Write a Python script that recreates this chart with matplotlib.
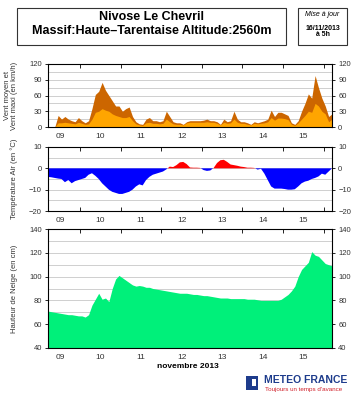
import numpy as np
import matplotlib
matplotlib.use("Agg")
import matplotlib.pyplot as plt
from matplotlib.patches import Rectangle

# ---- data (2-hourly, hours since 09/11 05h) ----
hours = list(range(0, 169, 2))
day_labels = ["09", "10", "11", "12", "13", "14", "15"]
day_label_hours = [7, 31, 55, 79, 103, 127, 151]
midnight_hours = [19, 43, 67, 91, 115, 139, 163]

wind_max = [0, 0, 0, 22, 15, 20, 15, 12, 10, 18, 12, 8, 12, 35, 62, 68, 85, 70, 60, 50,
            40, 40, 30, 35, 38, 20, 10, 6, 5, 15, 18, 12, 12, 10, 12, 30, 20, 10, 8, 8,
            5, 10, 12, 12, 12, 12, 13, 15, 12, 12, 10, 5, 15, 10, 12, 30, 15, 10, 10, 8,
            5, 10, 8, 10, 12, 15, 32, 20, 28, 28, 25, 22, 8, 5, 12, 30, 45, 63, 55, 98,
            75, 55, 40, 20, 25]
wind_mean = [0, 0, 0, 8, 8, 9, 8, 7, 6, 9, 7, 5, 6, 15, 28, 30, 35, 32, 30, 25,
             22, 20, 18, 18, 20, 12, 6, 4, 3, 8, 9, 7, 7, 6, 7, 15, 10, 6, 5, 5,
             4, 8, 9, 9, 9, 9, 9, 10, 9, 9, 7, 4, 9, 7, 8, 15, 9, 7, 7, 5,
             4, 7, 6, 7, 8, 10, 18, 13, 17, 17, 16, 14, 5, 3, 8, 15, 22, 30, 28, 45,
             40, 30, 25, 10, 15]
temperature = [-4, -4.2, -4.5, -4.8, -5, -6.5, -5.5, -7, -6, -5.5, -5, -4.5, -3, -2.3, -3.5, -5, -7, -8.5, -10, -11,
               -11.5, -12, -12, -11.5, -11, -10, -8.5, -7.5, -8, -5.5, -4, -3, -2.5, -2, -1.5, -0.5, 0.8, 0.6, 1.5, 2.8,
               3, 2, 0.4, 0.3, 0.3, 0.2, -0.8, -1.2, -1, 0.2, 2.5, 3.8, 4, 3, 1.8, 1.5, 1.2, 0.8, 0.6, 0.3,
               0.3, 0.2, -0.6, -0.2, -2.5, -5.5, -8.5, -9.5, -9.5, -9.5, -9.7, -10, -10, -9.8, -8.5, -7, -6.2, -5.8, -5, -4.5,
               -3.8, -2.5, -3, -1.5, 0]
snow = [71, 70.5, 70, 69.5, 69, 68.5, 68, 68, 67.5, 67, 67, 66, 68, 76, 81, 86, 81, 82, 79, 90,
        98, 101, 99, 97, 95, 93, 92, 92.5, 92, 91, 91, 90, 89.5, 89, 88.5, 88, 87.5, 87, 86.5, 86,
        86, 86, 85.5, 85, 85, 84.5, 84, 84, 83.5, 83, 82.5, 82, 82, 82, 81.5, 81.5, 81.5, 81.5, 81.5, 81,
        81, 81, 80.5, 80, 80, 80, 80, 80, 80, 81, 83, 85, 88, 92, 100, 106, 109, 112, 121, 118,
        117, 114, 111, 110, 109]

plt.rcParams['font.family'] = ['Liberation Sans', 'DejaVu Sans']

W, H = 356, 394
fig = plt.figure(figsize=(W / 100, H / 100), dpi=100)
fig.patch.set_facecolor('white')

def ax_rect(x0, y0, x1, y1):
    return [x0 / W, 1 - y1 / H, (x1 - x0) / W, (y1 - y0) / H]

t = np.array(hours, dtype=float)
grid_c = '#c8c8c8'
tick_c = '#333333'

def style(ax, ylim, majors, minors):
    ax.set_xlim(0, 168)
    ax.set_ylim(*ylim)
    ax.set_yticks(majors)
    ax.set_yticks(minors, minor=True)
    ax.grid(True, axis='y', which='both', color=grid_c, lw=0.6)
    ax.set_axisbelow(True)
    ax.tick_params(axis='y', which='major', labelsize=5.5, labelcolor=tick_c, length=2.5,
                   width=0.6, left=True, right=True, labelleft=True, labelright=True, direction='out', pad=2)
    ax.tick_params(axis='y', which='minor', length=0)
    ax.set_xticks(midnight_hours)
    ax.set_xticks(day_label_hours, minor=True)
    ax.set_xticklabels(day_labels, minor=True)
    ax.tick_params(axis='x', which='major', labelbottom=False, top=True, bottom=True,
                   direction='in', length=3, width=0.6)
    ax.tick_params(axis='x', which='minor', length=0, labelsize=6, labelcolor=tick_c, pad=4)
    for s in ax.spines.values():
        s.set_linewidth(0.8)

# Wind
ax1 = fig.add_axes(ax_rect(48, 64, 332, 127))
ax1.fill_between(t, wind_max, 0, color='#CC6600', lw=0)
ax1.fill_between(t, wind_mean, 0, color='#FFA500', lw=0)
style(ax1, (0, 120), [0, 30, 60, 90, 120], [15, 45, 75, 105])
ax1.set_ylabel("Vent moyen et\nVent maxi (en km/h)", fontsize=5.5, color=tick_c, labelpad=3, linespacing=1.1)

# Temperature
ax2 = fig.add_axes(ax_rect(48, 147, 332, 211))
tmp = np.array(temperature)
ax2.fill_between(t, tmp, 0, where=tmp <= 0, interpolate=True, color='#0000FF', lw=0)
ax2.fill_between(t, tmp, 0, where=tmp >= 0, interpolate=True, color='#FF0000', lw=0)
style(ax2, (-20, 10), [-20, -10, 0, 10], [-15, -5, 5])
ax2.set_ylabel("Température Air (en °C)", fontsize=5.5, color=tick_c, labelpad=3)

# Snow
ax3 = fig.add_axes(ax_rect(48, 229, 332, 348))
ax3.fill_between(t, snow, 40, color='#00F07A', lw=0)
style(ax3, (40, 140), [40, 60, 80, 100, 120, 140], [50, 70, 90, 110, 130])
ax3.set_ylabel("Hauteur de Neige (en cm)", fontsize=5.5, color=tick_c, labelpad=3)

for ax in (ax1, ax2, ax3):
    ax.yaxis.set_label_coords(-0.105, 0.5)

# Title boxes
fig.patches.append(Rectangle((17 / W, 1 - 45 / H), (286 - 17) / W, 37 / H, transform=fig.transFigure,
                             fill=False, lw=0.8, edgecolor='#333333'))
fig.text(151.5 / W, 1 - 17 / H, "Nivose Le Chevril", ha='center', va='center', fontsize=9, fontweight='bold')
fig.text(151.5 / W, 1 - 31 / H, "Massif:Haute\u2013Tarentaise Altitude:2560m", ha='center', va='center',
         fontsize=9, fontweight='bold')
fig.patches.append(Rectangle((298 / W, 1 - 45 / H), 49 / W, 37 / H, transform=fig.transFigure,
                             fill=False, lw=0.8, edgecolor='#333333'))
fig.text(322.5 / W, 1 - 15 / H, "Mise à jour", ha='center', va='center', fontsize=5, style='italic')
fig.text(322.5 / W, 1 - 28 / H, "16/11/2013", ha='center', va='center', fontsize=5, fontweight='bold')
fig.text(322.5 / W, 1 - 34 / H, "à 5h", ha='center', va='center', fontsize=5, fontweight='bold')

# x label
fig.text(188 / W, 1 - 367 / H, "novembre 2013", ha='center', va='center', fontsize=6, fontweight='bold')

# Logo
fig.patches.append(Rectangle((246 / W, 1 - 390 / H), 12 / W, 14 / H, transform=fig.transFigure,
                             color='#1E3C8C', lw=0))
fig.patches.append(Rectangle((252 / W, 1 - 386 / H), 4 / W, 7 / H, transform=fig.transFigure,
                             color='white', lw=0))
fig.text(264 / W, 1 - 380 / H, "METEO FRANCE", ha='left', va='center', fontsize=7.5, fontweight='bold',
         color='#1E3C8C')
fig.text(265 / W, 1 - 389 / H, "Toujours un temps d'avance", ha='left', va='center', fontsize=4.5,
         color='#D0202A')

fig.savefig('out.png', dpi=100)
